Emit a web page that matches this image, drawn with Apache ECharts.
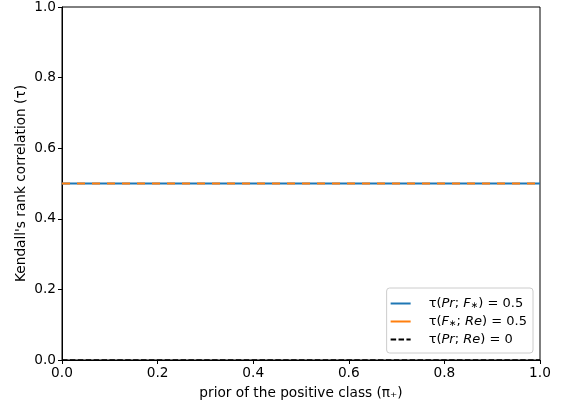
<!DOCTYPE html>
<html><head><meta charset="utf-8">
<script src="https://cdn.jsdelivr.net/npm/echarts@6/dist/echarts.min.js"></script>
<style>html,body{margin:0;padding:0;background:#fff}#c{width:561px;height:406px}</style>
</head><body><div id="c"></div>
<script>
const priors = [0, 0.05, 0.1, 0.15, 0.2, 0.25, 0.3, 0.35, 0.4, 0.45, 0.5, 0.55, 0.6, 0.65, 0.7, 0.75, 0.8, 0.85, 0.9, 0.95, 1.0];
const tauPrF = [0.5,0.5,0.5,0.5,0.5,0.5,0.5,0.5,0.5,0.5,0.5,0.5,0.5,0.5,0.5,0.5,0.5,0.5,0.5,0.5,0.5];
const tauFRe = [0.5,0.5,0.5,0.5,0.5,0.5,0.5,0.5,0.5,0.5,0.5,0.5,0.5,0.5,0.5,0.5,0.5,0.5,0.5,0.5,0.5];
const tauPrRe = [0,0,0,0,0,0,0,0,0,0,0,0,0,0,0,0,0,0,0,0,0];
const tickLabels = ['0.0','0.2','0.4','0.6','0.8','1.0'];
const names = ['τ(Pr; F∗) = 0.5', 'τ(F∗; Re) = 0.5', 'τ(Pr; Re) = 0'];
const richNames = {
  'τ(Pr; F∗) = 0.5': '{g|}{n|τ(}{i|Pr}{n|; }{i|F}{s|∗}{n|) = 0.5}',
  'τ(F∗; Re) = 0.5': '{g|}{n|τ(}{i|F}{s|∗}{n|; }{i|Re}{n|) = 0.5}',
  'τ(Pr; Re) = 0': '{g|}{n|τ(}{i|Pr}{n|; }{i|Re}{n|) = 0}'
};
const font = 'DejaVu Sans';
const fs = 13.7;
const solidIcon = 'path://M0,0h20v2h-20z';
const dashIcon = 'path://M0,0h5.5v2h-5.5zM7.9,0h5.5v2h-5.5zM15.8,0h4.2v2h-4.2z';
const chart = echarts.init(document.getElementById('c'), null, {renderer:'canvas'});
const zip = (xs, ys) => xs.map((x,i)=>[x, ys[i]]);
const axisCommon = {
  min: 0, max: 1, interval: 0.2,
  axisLine: {show: true, onZero: false, lineStyle: {color: '#000', width: 1}},
  axisTick: {show: true, length: 4, inside: false, lineStyle: {color: '#000'}},
  axisLabel: {color: '#000', fontFamily: font, fontSize: fs, margin: 6,
    formatter: v => tickLabels[Math.round(v*5)]},
  splitLine: {show: false}
};
chart.setOption({
  animation: false,
  grid: {left: 62, right: 21, top: 6, bottom: 46, containLabel: false,
    show: true, borderColor: '#000', borderWidth: 1, backgroundColor: 'transparent'},
  xAxis: Object.assign({type: 'value', name: 'prior of the positive class (π₊)',
    nameLocation: 'middle', nameGap: 26, nameMoveOverlap: false,
    nameTextStyle: {color: '#000', fontFamily: font, fontSize: fs}}, axisCommon),
  yAxis: Object.assign({type: 'value', name: "Kendall's rank correlation (τ)",
    nameLocation: 'middle', nameGap: 34, nameRotate: 90, nameMoveOverlap: false,
    nameTextStyle: {color: '#000', fontFamily: font, fontSize: fs}}, axisCommon),
  legend: {
    orient: 'vertical', right: 28, bottom: 53,
    itemWidth: 20, itemHeight: 2, itemGap: 5,
    backgroundColor: '#fff', borderColor: '#ccc', borderWidth: 1, borderRadius: 3,
    padding: [9, 6, 7, 4],
    data: [
      {name: names[0], icon: solidIcon},
      {name: names[1], icon: solidIcon},
      {name: names[2], icon: dashIcon}
    ],
    formatter: n => richNames[n],
    textStyle: {color: '#000', fontFamily: font, fontSize: 13,
      rich: {
        g: {width: 13},
        n: {fontFamily: font, fontSize: 13, color: '#000'},
        i: {fontFamily: font, fontSize: 13, fontStyle: 'italic', color: '#000'},
        s: {fontFamily: font, fontSize: 9, color: '#000', verticalAlign: 'bottom'}
      }}
  },
  series: [
    {name: names[0], type: 'line', data: zip(priors, tauPrF), symbol: 'none',
      lineStyle: {color: '#1f77b4', width: 2}, itemStyle: {color: '#1f77b4'}, z: 2},
    {name: names[1], type: 'line', data: zip(priors, tauFRe), symbol: 'none',
      lineStyle: {color: '#ff7f0e', width: 2, type: [8, 7]}, itemStyle: {color: '#ff7f0e'}, z: 3},
    {name: names[2], type: 'line', data: zip(priors, tauPrRe), symbol: 'none',
      lineStyle: {color: '#000', width: 1.5, type: [5.5, 2.4]}, itemStyle: {color: '#000'}, z: 4}
  ]
});
</script></body></html>
